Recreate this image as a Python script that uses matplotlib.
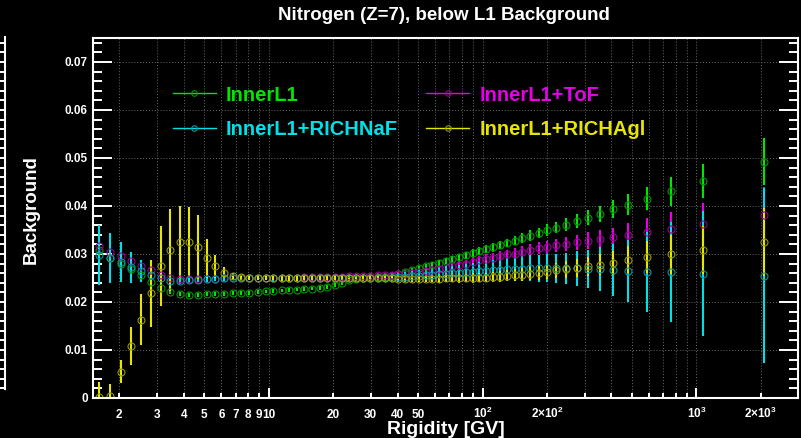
import matplotlib
matplotlib.use('Agg')
import matplotlib.pyplot as plt
from matplotlib.lines import Line2D
from matplotlib.ticker import FixedLocator, FuncFormatter

# bin centres [GV]
rigidity = [1.61, 1.81, 2.03, 2.27, 2.53, 2.82, 3.13, 3.46, 3.83, 4.22,
            4.65, 5.12, 5.63, 6.18, 6.77, 7.42, 8.11, 8.86, 9.67, 10.5,
            11.5, 12.5, 13.5, 14.6, 15.9, 17.3, 18.7, 20.3, 21.9, 23.7,
            25.7, 27.7, 29.9, 32.3, 34.8, 37.5, 40.4, 43.5, 46.8, 50.3,
            54.1, 58.2, 62.5, 67.2, 72.3, 77.6, 83.4, 89.7, 96.4, 104,
            112, 120, 130, 141, 153, 167, 183, 200, 221, 246,
            275, 310, 354, 409, 481, 589, 762, 1070, 2070]

bkg_inner = [0.0308, 0.0291, 0.0280, 0.0269, 0.0256, 0.0242, 0.0229, 0.0220, 0.0217, 0.0215,
             0.0215, 0.0216, 0.0217, 0.0217, 0.0218, 0.0218, 0.0219, 0.0220, 0.0222, 0.0223,
             0.0224, 0.0225, 0.0226, 0.0227, 0.0228, 0.0229, 0.0232, 0.0235, 0.0240, 0.0245,
             0.0248, 0.0250, 0.0251, 0.0252, 0.0253, 0.0255, 0.0258, 0.0262, 0.0266, 0.0271,
             0.0275, 0.0278, 0.0281, 0.0285, 0.0289, 0.0293, 0.0297, 0.0302, 0.0306, 0.0310,
             0.0314, 0.0319, 0.0323, 0.0328, 0.0333, 0.0338, 0.0344, 0.0350, 0.0355, 0.0361,
             0.0369, 0.0376, 0.0384, 0.0394, 0.0403, 0.0415, 0.0431, 0.0452, 0.0492]
err_inner = [0.0005, 0.0005, 0.0004, 0.0004, 0.0004, 0.0004, 0.0004, 0.0004, 0.0004, 0.0004,
             0.0004, 0.0004, 0.0004, 0.0004, 0.0004, 0.0004, 0.0004, 0.0004, 0.0004, 0.0004,
             0.0004, 0.0004, 0.0004, 0.0004, 0.0004, 0.0004, 0.0004, 0.0004, 0.0004, 0.0004,
             0.0004, 0.0004, 0.0004, 0.0005, 0.0005, 0.0005, 0.0005, 0.0005, 0.0005, 0.0005,
             0.0005, 0.0006, 0.0006, 0.0006, 0.0007, 0.0007, 0.0007, 0.0008, 0.0008, 0.0008,
             0.0009, 0.0009, 0.0009, 0.0010, 0.0010, 0.0011, 0.0011, 0.0012, 0.0012, 0.0013,
             0.0014, 0.0015, 0.0017, 0.0019, 0.0021, 0.0024, 0.0030, 0.0036, 0.0049]

bkg_tof = [0.0317, 0.0304, 0.0296, 0.0285, 0.0276, 0.0267, 0.0256, 0.0249, 0.0247, 0.0247,
           0.0247, 0.0248, 0.0248, 0.0249, 0.0251, 0.0251, 0.0251, 0.0251, 0.0251, 0.0251,
           0.0251, 0.0251, 0.0251, 0.0252, 0.0252, 0.0252, 0.0252, 0.0253, 0.0253, 0.0254,
           0.0254, 0.0255, 0.0255, 0.0256, 0.0256, 0.0257, 0.0258, 0.0259, 0.0261, 0.0262,
           0.0264, 0.0267, 0.0269, 0.0271, 0.0274, 0.0277, 0.0280, 0.0284, 0.0287, 0.0290,
           0.0292, 0.0296, 0.0299, 0.0301, 0.0305, 0.0308, 0.0312, 0.0314, 0.0318, 0.0321,
           0.0324, 0.0328, 0.0331, 0.0335, 0.0340, 0.0345, 0.0353, 0.0363, 0.0381]
err_tof = [0.0006, 0.0006, 0.0006, 0.0005, 0.0005, 0.0005, 0.0004, 0.0004, 0.0004, 0.0004,
           0.0004, 0.0004, 0.0004, 0.0004, 0.0004, 0.0004, 0.0004, 0.0004, 0.0004, 0.0004,
           0.0004, 0.0004, 0.0004, 0.0004, 0.0004, 0.0004, 0.0004, 0.0004, 0.0004, 0.0004,
           0.0004, 0.0004, 0.0005, 0.0005, 0.0005, 0.0005, 0.0005, 0.0005, 0.0006, 0.0006,
           0.0006, 0.0007, 0.0007, 0.0007, 0.0008, 0.0008, 0.0008, 0.0009, 0.0009, 0.0009,
           0.0010, 0.0010, 0.0010, 0.0011, 0.0011, 0.0012, 0.0012, 0.0013, 0.0013, 0.0014,
           0.0015, 0.0017, 0.0018, 0.0020, 0.0024, 0.0029, 0.0035, 0.0043, 0.0059]

bkg_naf = [0.0298, 0.0292, 0.0284, 0.0272, 0.0265, 0.0256, 0.0251, 0.0244, 0.0244, 0.0245,
           0.0246, 0.0247, 0.0248, 0.0249, 0.0250, 0.0250, 0.0250, 0.0250, 0.0250, 0.0249,
           0.0249, 0.0249, 0.0249, 0.0249, 0.0249, 0.0249, 0.0249, 0.0250, 0.0250, 0.0250,
           0.0250, 0.0250, 0.0250, 0.0250, 0.0250, 0.0251, 0.0252, 0.0253, 0.0254, 0.0255,
           0.0256, 0.0257, 0.0258, 0.0259, 0.0260, 0.0261, 0.0262, 0.0263, 0.0264, 0.0265,
           0.0266, 0.0267, 0.0268, 0.0269, 0.0269, 0.0270, 0.0270, 0.0270, 0.0270, 0.0270,
           0.0270, 0.0269, 0.0268, 0.0267, 0.0265, 0.0263, 0.0262, 0.0259, 0.0255]
err_naf = [0.0063, 0.0052, 0.0042, 0.0032, 0.0023, 0.0015, 0.0010, 0.0007, 0.0006, 0.0005,
           0.0005, 0.0005, 0.0005, 0.0005, 0.0005, 0.0005, 0.0005, 0.0005, 0.0005, 0.0005,
           0.0005, 0.0005, 0.0005, 0.0005, 0.0005, 0.0005, 0.0006, 0.0006, 0.0006, 0.0006,
           0.0006, 0.0006, 0.0007, 0.0007, 0.0008, 0.0008, 0.0009, 0.0009, 0.0010, 0.0011,
           0.0012, 0.0013, 0.0014, 0.0015, 0.0016, 0.0017, 0.0018, 0.0019, 0.0020, 0.0021,
           0.0022, 0.0023, 0.0024, 0.0025, 0.0026, 0.0027, 0.0028, 0.0029, 0.0030, 0.0032,
           0.0036, 0.0040, 0.0046, 0.0054, 0.0064, 0.0083, 0.0104, 0.0130, 0.0183]

bkg_agl = [0.0003, 0.0005, 0.0055, 0.0108, 0.0163, 0.0218, 0.0275, 0.0308, 0.0324, 0.0325,
           0.0315, 0.0291, 0.0274, 0.0261, 0.0254, 0.0252, 0.0251, 0.0251, 0.0250, 0.0250,
           0.0249, 0.0249, 0.0249, 0.0249, 0.0249, 0.0249, 0.0249, 0.0249, 0.0249, 0.0249,
           0.0249, 0.0249, 0.0249, 0.0249, 0.0249, 0.0249, 0.0248, 0.0248, 0.0248, 0.0248,
           0.0248, 0.0248, 0.0248, 0.0249, 0.0249, 0.0249, 0.0250, 0.0250, 0.0251, 0.0251,
           0.0252, 0.0253, 0.0255, 0.0256, 0.0257, 0.0259, 0.0260, 0.0263, 0.0266, 0.0268,
           0.0271, 0.0274, 0.0278, 0.0282, 0.0288, 0.0294, 0.0299, 0.0308, 0.0325]
err_agl = [0.0030, 0.0025, 0.0024, 0.0039, 0.0053, 0.0070, 0.0083, 0.0085, 0.0077, 0.0072,
           0.0067, 0.0040, 0.0023, 0.0012, 0.0007, 0.0005, 0.0005, 0.0005, 0.0005, 0.0005,
           0.0005, 0.0005, 0.0005, 0.0005, 0.0005, 0.0005, 0.0005, 0.0005, 0.0005, 0.0005,
           0.0005, 0.0005, 0.0005, 0.0005, 0.0005, 0.0006, 0.0006, 0.0006, 0.0006, 0.0007,
           0.0007, 0.0007, 0.0008, 0.0008, 0.0008, 0.0009, 0.0009, 0.0010, 0.0010, 0.0010,
           0.0011, 0.0011, 0.0012, 0.0012, 0.0013, 0.0013, 0.0014, 0.0015, 0.0016, 0.0017,
           0.0018, 0.0020, 0.0022, 0.0025, 0.0028, 0.0034, 0.0041, 0.0050, 0.0071]

labels = ['InnerL1', 'InnerL1+ToF', 'InnerL1+RICHNaF', 'InnerL1+RICHAgl']
line_colors = ['#00e600', '#e600e6', '#00e0e6', '#e6e600']
marker_colors = ['#009800', '#980098', '#0098a0', '#989800']

plt.rcParams['font.family'] = ['Liberation Sans', 'DejaVu Sans']
plt.rcParams['font.weight'] = 'bold'
plt.rcParams['mathtext.fontset'] = 'custom'
plt.rcParams['mathtext.rm'] = 'Liberation Sans:bold'
plt.rcParams['mathtext.bf'] = 'Liberation Sans:bold'
plt.rcParams['mathtext.default'] = 'rm'

W, H = 801, 438
fig = plt.figure(figsize=(W / 100, H / 100), dpi=100, facecolor='black')
ax = fig.add_axes([93.2 / W, (H - 398) / H, (798.5 - 93.2) / W, 360 / H])
ax.set_facecolor('black')

series = [(bkg_inner, err_inner), (bkg_tof, err_tof), (bkg_naf, err_naf), (bkg_agl, err_agl)]
for (vals, errs), lc, mc in zip(series, line_colors, marker_colors):
    ax.errorbar(rigidity, vals, yerr=errs, fmt='o', ms=5, mfc='none', mec=mc, mew=0.8,
                ecolor=lc, elinewidth=1.5, capsize=0)

ax.set_xscale('log')
ax.set_xlim(1.51, 3000)
ax.set_ylim(0, 0.075)

# x ticks, ROOT style labels
ax.set_xticks([10, 100, 1000], ['10', '$10^{2}$', '$10^{3}$'])
minor_x = [2, 3, 4, 5, 6, 7, 8, 9, 20, 30, 40, 50, 60, 70, 80, 90,
           200, 300, 400, 500, 600, 700, 800, 900, 2000]
minor_lab = ['2', '3', '4', '5', '6', '7', '8', '9', '20', '30', '40', '50', '', '', '', '',
             '$2{\\times}10^{2}$', '', '', '', '', '', '', '', '$2{\\times}10^{3}$']
ax.set_xticks(minor_x, minor_lab, minor=True)

ax.yaxis.set_major_locator(FixedLocator([0, 0.01, 0.02, 0.03, 0.04, 0.05, 0.06, 0.07]))
ax.yaxis.set_minor_locator(FixedLocator([i * 0.002 for i in range(38)]))
ax.yaxis.set_major_formatter(FuncFormatter(lambda v, p: '0' if v == 0 else '%.2f' % v))

for sp in ax.spines.values():
    sp.set_color('white')
    sp.set_linewidth(1.5)

ax.tick_params(axis='x', which='major', direction='in', length=7.5, width=1.4,
               colors='white', labelsize=8.5, pad=14.5)
ax.tick_params(axis='x', which='minor', direction='in', length=3.5, width=1.4,
               colors='white', labelsize=8.5, pad=14.5)
ax.tick_params(axis='y', which='major', direction='in', length=13.5, width=1.4,
               colors='white', labelsize=8.5, pad=4, right=True)
ax.tick_params(axis='y', which='minor', direction='in', length=6.5, width=1.4,
               colors='white', right=True)
for lbl in ax.get_xticklabels(which='both'):
    lbl.set_va('baseline')

ax.grid(True, which='both', axis='x', color='#6a6a6a', lw=0.7, ls=(0, (1, 2)))
ax.grid(True, which='major', axis='y', color='#6a6a6a', lw=0.7, ls=(0, (1, 2)))
ax.set_axisbelow(True)

# legend filled column by column -> order entries so rows read InnerL1 | ToF, NaF | Agl
handles = [Line2D([], [], color=lc, lw=1, marker='o', ms=4, mfc='none', mec=mc, mew=0.8)
           for lc, mc in zip(line_colors, marker_colors)]
order = [0, 2, 1, 3]
ax.legend([handles[i] for i in order], [labels[i] for i in order], ncol=2,
          loc='upper left', bbox_to_anchor=(0.1127, 0.868),
          frameon=False, fontsize=14.5, handlelength=2.14, handletextpad=0.5,
          columnspacing=1.4, labelspacing=0.76, labelcolor='linecolor',
          borderaxespad=0, borderpad=0)

# edge of the neighbouring pad on the left
side = fig.add_axes([-50 / W, (H - 389) / H, 55 / W, 352 / H])
side.set_facecolor('none')
side.set_xlim(0, 1)
side.set_ylim(0.001875, 0.0752)
for name, sp in side.spines.items():
    sp.set_visible(name == 'right')
side.spines['right'].set_color('white')
side.spines['right'].set_linewidth(1.5)
side.set_xticks([])
side.yaxis.tick_right()
side.set_yticks([i * 0.002 for i in range(1, 38)])
side.tick_params(axis='y', direction='in', length=3.8, width=1.4, colors='white',
                 labelright=False)

fig.text(444 / W, 1 - 15 / H, 'Nitrogen (Z=7), below L1 Background', color='white',
         fontsize=13.5, ha='center', va='center')
fig.text(446 / W, (H - 434) / H, 'Rigidity [GV]', color='white', fontsize=14,
         ha='center', va='baseline')
fig.text(31 / W, 1 - 210 / H, 'Background', color='white', fontsize=13.5,
         rotation=90, ha='center', va='center')

fig.savefig('out.png', dpi=100, facecolor='black')
